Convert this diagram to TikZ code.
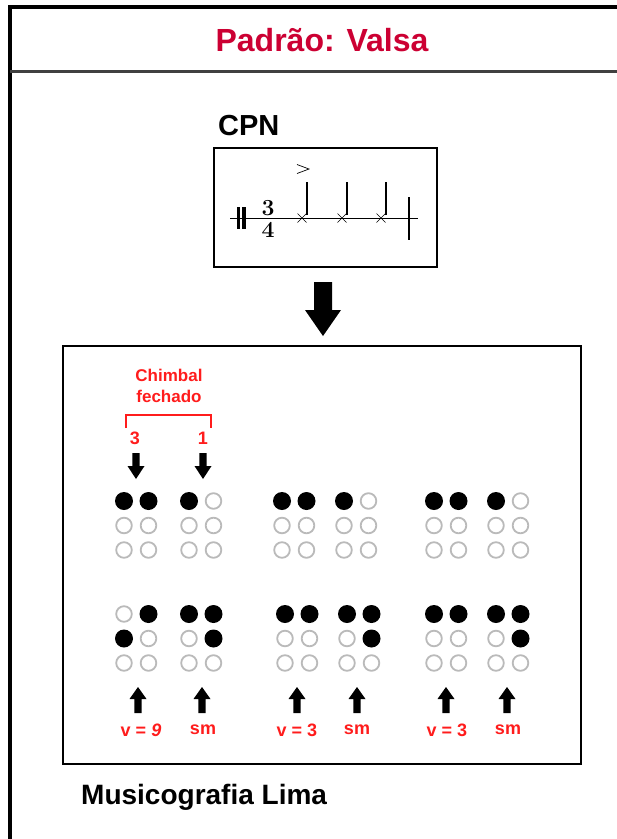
\documentclass[tikz,border=0pt]{standalone}
\usepackage{fontspec}
\newfontfamily\arial{Liberation Sans}
\definecolor{titlered}{RGB}{204,0,51}
\definecolor{lred}{RGB}{255,28,28}
\newcommand\brcell[3]{%
  \foreach \v [count=\i from 0] in {#3} {
    \pgfmathtruncatemacro\cc{mod(\i,2)}
    \pgfmathtruncatemacro\rr{div(\i,2)}
    \ifnum\v=1
      \fill ({#1+\cc*24.5},{#2+\rr*24.5}) circle (9pt);
    \else
      \draw[emptydot] ({#1+\cc*24.5},{#2+\rr*24.5}) circle (7.8pt);
    \fi
  }}
\begin{document}
\begin{tikzpicture}[x=1pt,y=-1pt,
  emptydot/.style={draw=black!27,line width=1.8pt},
  redlbl/.style={font=\arial\bfseries\fontsize{18}{21}\selectfont,text=lred,inner sep=0pt},
  frameline/.style={line width=4.5pt},
  tsig/.style={font=\bfseries\fontsize{23}{23}\selectfont,inner sep=0pt},
  dnarr/.pic={\fill (-3.6,0) -- (-3.6,13) -- (-8.5,13) -- (0,26) -- (8.5,13) -- (3.6,13) -- (3.6,0) -- cycle;},
  uparr/.pic={\fill (0,0) -- (8.5,12) -- (3.6,12) -- (3.6,26) -- (-3.6,26) -- (-3.6,12) -- (-8.5,12) -- cycle;}]
\useasboundingbox (0,0) rectangle (617,839);
\fill[white] (0,0) rectangle (617,839);
% frame
\draw[frameline] (10,839) -- (10,7) -- (617,7);
\draw[line width=3pt,black!75] (10,71) -- (617,71);
\node[font=\arial\bfseries\fontsize{32}{36}\selectfont,text=titlered] (title) at (322,40) {Padrão: Valsa};
% CPN
\node[anchor=west,font=\arial\bfseries\fontsize{29}{32}\selectfont,inner sep=0pt] (cpnlbl) at (218,126) {CPN};
\node[draw,line width=2pt,anchor=north west,minimum width=223pt,minimum height=119pt,inner sep=0pt] (cpn) at (213,147) {};
\draw[line width=1pt] (230,218) -- (418,218);
\fill (236.5,207) rectangle (240,229);
\fill (242,207) rectangle (245.5,229);
\node[tsig,anchor=base] (ts3) at (268,215.5) {3};
\node[tsig,anchor=base] (ts4) at (268,237.5) {4};
\foreach \h in {302,342,381}{
  \draw[line width=0.6pt] (\h-4.5,213.5) -- (\h+4.5,222.5) (\h-4.5,222.5) -- (\h+4.5,213.5);
  \draw[line width=1.1pt] (\h+5,215) -- (\h+5,182);
}
\draw[line width=0.7pt] (297,164.5) -- (309,169) -- (297,173.5);
\draw[line width=1.1pt] (409,197) -- (409,240);
% big arrow
\fill (314,282) -- (332,282) -- (332,310) -- (341,310) -- (323,336) -- (305,310) -- (314,310) -- cycle;
% main box
\node[draw,line width=2pt,anchor=north west,minimum width=518pt,minimum height=418pt,inner sep=0pt] (lima) at (62,345) {};
% chimbal
\node[redlbl,align=center,font=\arial\bfseries\fontsize{17}{21}\selectfont] (chimbal) at (169,386) {Chimbal\\fechado};
\draw[lred,line width=2pt] (126,428) -- (126,415) -- (211,415) -- (211,428);
\node[redlbl] (n3) at (135,438) {3};
\node[redlbl] (n1) at (203,438) {1};
\pic at (136,453) {dnarr};
\pic at (203,453) {dnarr};
% braille top
\brcell{124}{501}{1,1,0,0,0,0}
\brcell{189}{501}{1,0,0,0,0,0}
\brcell{282}{501}{1,1,0,0,0,0}
\brcell{344}{501}{1,0,0,0,0,0}
\brcell{434}{501}{1,1,0,0,0,0}
\brcell{496}{501}{1,0,0,0,0,0}
% braille bottom
\brcell{124}{614}{0,1,1,0,0,0}
\brcell{189}{614}{1,1,0,1,0,0}
\brcell{285}{614}{1,1,0,0,0,0}
\brcell{347}{614}{1,1,0,1,0,0}
\brcell{434}{614}{1,1,0,0,0,0}
\brcell{496}{614}{1,1,0,1,0,0}
% up arrows
\foreach \ax in {138,202,297,357,446,507}{\pic at (\ax,687) {uparr};}
\node[redlbl] (v9) at (141,730) {v = \textit{9}};
\node[redlbl] (sm1) at (203,730) {sm};
\node[redlbl] (v3a) at (297,730) {v = 3};
\node[redlbl] (sm2) at (357,730) {sm};
\node[redlbl] (v3b) at (447,730) {v = 3};
\node[redlbl] (sm3) at (508,730) {sm};
\node[anchor=west,font=\arial\bfseries\fontsize{28}{32}\selectfont,inner sep=0pt] (ml) at (81,797) {Musicografia Lima};
\end{tikzpicture}
\end{document}
